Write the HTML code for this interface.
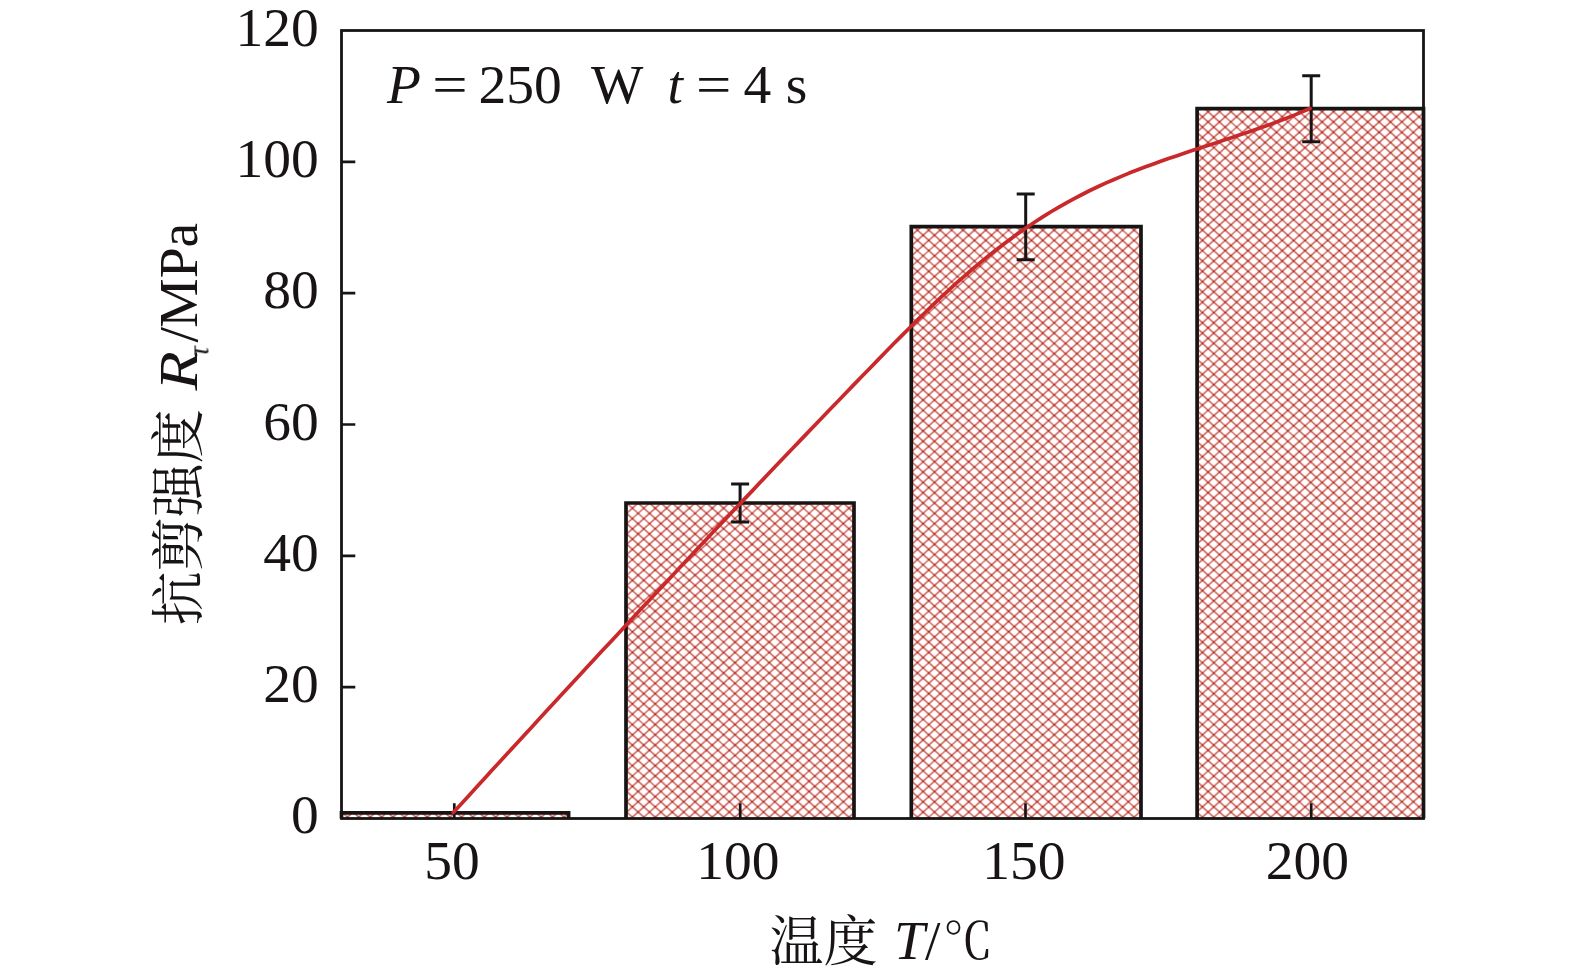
<!DOCTYPE html>
<html><head><meta charset="utf-8"><title>抗剪强度与温度关系</title>
<style>
html,body{margin:0;padding:0;background:#fff;overflow:hidden}
svg{display:block}
text{font-family:"Liberation Serif","Noto Serif CJK SC",serif;fill:#181415;font-size:55.5px}
.cjk{font-family:"Noto Serif CJK SC","Liberation Serif",serif;font-size:54px}
.it{font-style:italic}
.sub{font-size:29px;filter:blur(0)}
.lbl{opacity:0.999}
</style></head><body>
<svg width="1575" height="977" viewBox="0 0 1575 977">
<defs>
<pattern id="h" patternUnits="userSpaceOnUse" x="39.60" y="75.60" width="57.0" height="103.0">
<path d="M-125.40,0 L-11.40,103.00 M-114.00,0 L0.00,103.00 M-102.60,0 L11.40,103.00 M-91.20,0 L22.80,103.00 M-79.80,0 L34.20,103.00 M-68.40,0 L45.60,103.00 M-57.00,0 L57.00,103.00 M-45.60,0 L68.40,103.00 M-34.20,0 L79.80,103.00 M-22.80,0 L91.20,103.00 M-11.40,0 L102.60,103.00 M0.00,0 L114.00,103.00 M11.40,0 L125.40,103.00 M22.80,0 L136.80,103.00 M34.20,0 L148.20,103.00 M45.60,0 L159.60,103.00 M57.00,0 L171.00,103.00 M68.40,0 L182.40,103.00 M-11.40,0 L-125.40,103.00 M0.00,0 L-114.00,103.00 M11.40,0 L-102.60,103.00 M22.80,0 L-91.20,103.00 M34.20,0 L-79.80,103.00 M45.60,0 L-68.40,103.00 M57.00,0 L-57.00,103.00 M68.40,0 L-45.60,103.00 M79.80,0 L-34.20,103.00 M91.20,0 L-22.80,103.00 M102.60,0 L-11.40,103.00 M114.00,0 L0.00,103.00 M125.40,0 L11.40,103.00 M136.80,0 L22.80,103.00 M148.20,0 L34.20,103.00 M159.60,0 L45.60,103.00 M171.00,0 L57.00,103.00 M182.40,0 L68.40,103.00" stroke="#c63c30" stroke-width="1.25" fill="none"/>
<path d="M-0.75,-0.75h1.5v1.5h-1.5zM4.95,4.40h1.5v1.5h-1.5zM-0.75,9.55h1.5v1.5h-1.5zM4.95,14.70h1.5v1.5h-1.5zM-0.75,19.85h1.5v1.5h-1.5zM4.95,25.00h1.5v1.5h-1.5zM-0.75,30.15h1.5v1.5h-1.5zM4.95,35.30h1.5v1.5h-1.5zM-0.75,40.45h1.5v1.5h-1.5zM4.95,45.60h1.5v1.5h-1.5zM-0.75,50.75h1.5v1.5h-1.5zM4.95,55.90h1.5v1.5h-1.5zM-0.75,61.05h1.5v1.5h-1.5zM4.95,66.20h1.5v1.5h-1.5zM-0.75,71.35h1.5v1.5h-1.5zM4.95,76.50h1.5v1.5h-1.5zM-0.75,81.65h1.5v1.5h-1.5zM4.95,86.80h1.5v1.5h-1.5zM-0.75,91.95h1.5v1.5h-1.5zM4.95,97.10h1.5v1.5h-1.5zM-0.75,102.25h1.5v1.5h-1.5zM10.65,-0.75h1.5v1.5h-1.5zM16.35,4.40h1.5v1.5h-1.5zM10.65,9.55h1.5v1.5h-1.5zM16.35,14.70h1.5v1.5h-1.5zM10.65,19.85h1.5v1.5h-1.5zM16.35,25.00h1.5v1.5h-1.5zM10.65,30.15h1.5v1.5h-1.5zM16.35,35.30h1.5v1.5h-1.5zM10.65,40.45h1.5v1.5h-1.5zM16.35,45.60h1.5v1.5h-1.5zM10.65,50.75h1.5v1.5h-1.5zM16.35,55.90h1.5v1.5h-1.5zM10.65,61.05h1.5v1.5h-1.5zM16.35,66.20h1.5v1.5h-1.5zM10.65,71.35h1.5v1.5h-1.5zM16.35,76.50h1.5v1.5h-1.5zM10.65,81.65h1.5v1.5h-1.5zM16.35,86.80h1.5v1.5h-1.5zM10.65,91.95h1.5v1.5h-1.5zM16.35,97.10h1.5v1.5h-1.5zM10.65,102.25h1.5v1.5h-1.5zM22.05,-0.75h1.5v1.5h-1.5zM27.75,4.40h1.5v1.5h-1.5zM22.05,9.55h1.5v1.5h-1.5zM27.75,14.70h1.5v1.5h-1.5zM22.05,19.85h1.5v1.5h-1.5zM27.75,25.00h1.5v1.5h-1.5zM22.05,30.15h1.5v1.5h-1.5zM27.75,35.30h1.5v1.5h-1.5zM22.05,40.45h1.5v1.5h-1.5zM27.75,45.60h1.5v1.5h-1.5zM22.05,50.75h1.5v1.5h-1.5zM27.75,55.90h1.5v1.5h-1.5zM22.05,61.05h1.5v1.5h-1.5zM27.75,66.20h1.5v1.5h-1.5zM22.05,71.35h1.5v1.5h-1.5zM27.75,76.50h1.5v1.5h-1.5zM22.05,81.65h1.5v1.5h-1.5zM27.75,86.80h1.5v1.5h-1.5zM22.05,91.95h1.5v1.5h-1.5zM27.75,97.10h1.5v1.5h-1.5zM22.05,102.25h1.5v1.5h-1.5zM33.45,-0.75h1.5v1.5h-1.5zM39.15,4.40h1.5v1.5h-1.5zM33.45,9.55h1.5v1.5h-1.5zM39.15,14.70h1.5v1.5h-1.5zM33.45,19.85h1.5v1.5h-1.5zM39.15,25.00h1.5v1.5h-1.5zM33.45,30.15h1.5v1.5h-1.5zM39.15,35.30h1.5v1.5h-1.5zM33.45,40.45h1.5v1.5h-1.5zM39.15,45.60h1.5v1.5h-1.5zM33.45,50.75h1.5v1.5h-1.5zM39.15,55.90h1.5v1.5h-1.5zM33.45,61.05h1.5v1.5h-1.5zM39.15,66.20h1.5v1.5h-1.5zM33.45,71.35h1.5v1.5h-1.5zM39.15,76.50h1.5v1.5h-1.5zM33.45,81.65h1.5v1.5h-1.5zM39.15,86.80h1.5v1.5h-1.5zM33.45,91.95h1.5v1.5h-1.5zM39.15,97.10h1.5v1.5h-1.5zM33.45,102.25h1.5v1.5h-1.5zM44.85,-0.75h1.5v1.5h-1.5zM50.55,4.40h1.5v1.5h-1.5zM44.85,9.55h1.5v1.5h-1.5zM50.55,14.70h1.5v1.5h-1.5zM44.85,19.85h1.5v1.5h-1.5zM50.55,25.00h1.5v1.5h-1.5zM44.85,30.15h1.5v1.5h-1.5zM50.55,35.30h1.5v1.5h-1.5zM44.85,40.45h1.5v1.5h-1.5zM50.55,45.60h1.5v1.5h-1.5zM44.85,50.75h1.5v1.5h-1.5zM50.55,55.90h1.5v1.5h-1.5zM44.85,61.05h1.5v1.5h-1.5zM50.55,66.20h1.5v1.5h-1.5zM44.85,71.35h1.5v1.5h-1.5zM50.55,76.50h1.5v1.5h-1.5zM44.85,81.65h1.5v1.5h-1.5zM50.55,86.80h1.5v1.5h-1.5zM44.85,91.95h1.5v1.5h-1.5zM50.55,97.10h1.5v1.5h-1.5zM44.85,102.25h1.5v1.5h-1.5zM56.25,-0.75h1.5v1.5h-1.5zM56.25,9.55h1.5v1.5h-1.5zM56.25,19.85h1.5v1.5h-1.5zM56.25,30.15h1.5v1.5h-1.5zM56.25,40.45h1.5v1.5h-1.5zM56.25,50.75h1.5v1.5h-1.5zM56.25,61.05h1.5v1.5h-1.5zM56.25,71.35h1.5v1.5h-1.5zM56.25,81.65h1.5v1.5h-1.5zM56.25,91.95h1.5v1.5h-1.5zM56.25,102.25h1.5v1.5h-1.5z" fill="#8e2420"/>
</pattern>
</defs>
<rect width="1575" height="977" fill="#fff"/>
<rect x="341.50" y="812.80" width="227.10" height="5.70" fill="url(#h)"/>
<rect x="626.00" y="503.00" width="228.00" height="315.50" fill="url(#h)"/>
<rect x="911.30" y="226.70" width="229.70" height="591.80" fill="url(#h)"/>
<rect x="1197.10" y="108.70" width="226.40" height="709.80" fill="url(#h)"/>
<path d="M341.50,818.5 V812.80 H568.60 V818.5 M626.00,818.5 V503.00 H854.00 V818.5 M911.30,818.5 V226.70 H1141.00 V818.5 M1197.10,818.5 V108.70 H1423.50 V818.5 " fill="none" stroke="#181415" stroke-width="3.7"/>
<rect x="341.5" y="30.5" width="1082" height="788" fill="none" stroke="#181415" stroke-width="2.8"/>
<path d="M341.5,687.17 H355.3 M341.5,555.83 H355.3 M341.5,424.50 H355.3 M341.5,293.17 H355.3 M341.5,161.83 H355.3 M454.3,818.5 V803.2 M740.2,818.5 V803.2 M1025.5,818.5 V803.2 M1311.2,818.5 V803.2 " stroke="#181415" stroke-width="2.7" fill="none"/>
<path d="M731.1,484.0 H749.1 M740.1,484.0 V522.0 M731.1,522.0 H749.1" stroke="#181415" stroke-width="3" fill="none"/>
<path d="M1016.7,194.0 H1034.7 M1025.7,194.0 V259.8 M1016.7,259.8 H1034.7" stroke="#181415" stroke-width="3" fill="none"/>
<path d="M1302.2,75.8 H1320.2 M1311.2,75.8 V141.8 M1302.2,141.8 H1320.2" stroke="#181415" stroke-width="3" fill="none"/>

<path d="M453.3,812.5 L461.2,804.0 L469.0,795.4 L476.9,786.8 L484.7,778.2 L492.6,769.6 L500.5,761.1 L508.3,752.5 L516.2,744.0 L524.0,735.4 L531.9,726.9 L539.8,718.3 L547.6,709.8 L555.5,701.3 L563.3,692.8 L571.2,684.3 L579.1,675.8 L586.9,667.3 L594.8,658.8 L602.6,650.3 L610.5,641.9 L618.4,633.4 L626.2,625.0 L634.1,616.5 L641.9,608.1 L649.8,599.7 L657.7,591.3 L665.5,582.9 L673.4,574.5 L681.2,566.1 L689.1,557.7 L696.9,549.3 L704.8,541.0 L712.7,532.6 L720.5,524.3 L728.4,516.0 L736.2,507.7 L744.1,499.4 L752.0,491.1 L759.8,482.8 L767.7,474.5 L775.5,466.3 L783.4,458.0 L791.3,449.8 L799.1,441.6 L807.0,433.4 L814.8,425.2 L822.7,417.0 L830.6,408.8 L838.4,400.7 L846.3,392.5 L854.1,384.4 L862.0,376.3 L869.9,368.2 L877.7,360.1 L885.6,352.0 L893.4,344.0 L901.3,336.1 L909.2,328.2 L917.0,320.4 L924.9,312.7 L932.7,305.1 L940.6,297.7 L948.5,290.4 L956.3,283.2 L964.2,276.3 L972.0,269.5 L979.9,262.9 L987.8,256.4 L995.6,250.2 L1003.5,244.2 L1011.3,238.4 L1019.2,232.7 L1027.1,227.2 L1034.9,222.0 L1042.8,216.9 L1050.6,212.0 L1058.5,207.3 L1066.4,202.9 L1074.2,198.6 L1082.1,194.5 L1089.9,190.5 L1097.8,186.8 L1105.6,183.1 L1113.5,179.7 L1121.4,176.4 L1129.2,173.1 L1137.1,170.1 L1144.9,167.1 L1152.8,164.2 L1160.7,161.3 L1168.5,158.6 L1176.4,155.9 L1184.2,153.2 L1192.1,150.6 L1200.0,148.0 L1207.8,145.5 L1215.7,142.9 L1223.5,140.3 L1231.4,137.8 L1239.3,135.1 L1247.1,132.5 L1255.0,129.8 L1262.8,127.0 L1270.7,124.2 L1278.6,121.3 L1286.4,118.2 L1294.3,115.1 L1302.1,111.9 L1310.0,108.5" stroke="#c9292a" stroke-width="3.7" fill="none" stroke-linejoin="round" stroke-linecap="round"/>
<text x="318.8" y="832.5" text-anchor="end">0</text>
<text x="318.8" y="702.2" text-anchor="end">20</text>
<text x="318.8" y="570.8" text-anchor="end">40</text>
<text x="318.8" y="439.5" text-anchor="end">60</text>
<text x="318.8" y="308.2" text-anchor="end">80</text>
<text x="318.8" y="176.8" text-anchor="end">100</text>
<text x="318.8" y="45.5" text-anchor="end">120</text>

<text x="451.9" y="879.2" text-anchor="middle">50</text>
<text x="737.9" y="879.2" text-anchor="middle">100</text>
<text x="1023.8" y="879.2" text-anchor="middle">150</text>
<text x="1307.3" y="879.2" text-anchor="middle">200</text>

<text y="103"><tspan x="387" class="it">P</tspan><tspan x="478.6">250</tspan><tspan x="590.9">W</tspan><tspan x="667.5" class="it">t</tspan><tspan x="743.5">4</tspan><tspan x="785.8">s</tspan></text>
<text transform="translate(432.2,103) scale(1.13,1)">=</text>
<text transform="translate(696.1,103) scale(1.13,1)">=</text>
<g transform="translate(196.5,623.3) rotate(-90)" class="lbl">
<text x="-2" y="1" class="cjk">抗剪强度</text>
<text transform="translate(232.9,0) scale(1.16,1)" class="it">R</text>
<text y="0"><tspan x="280.7">/</tspan><tspan x="295.6">MPa</tspan></text>
<text x="266.8" y="12" class="it sub">τ</text>
</g>
<text x="769.4" y="961" class="cjk">温度</text>
<text y="958.8"><tspan x="894" class="it">T</tspan><tspan x="924.9">/</tspan><tspan x="942.9" class="cjk" style="font-size:50px">℃</tspan></text>
</svg>
</body></html>
